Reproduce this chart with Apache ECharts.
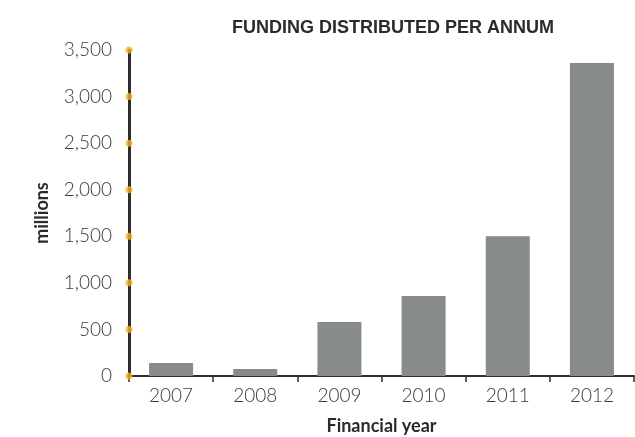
<!DOCTYPE html>
<html>
<head>
<meta charset="utf-8">
<style>
  html, body { margin: 0; padding: 0; background: #ffffff; }
  #chart { width: 635px; height: 437px; }
</style>
<script src="https://cdn.jsdelivr.net/npm/echarts@6/dist/echarts.min.js"></script>
</head>
<body>
<div id="chart"></div>
<script>
// Funding distributed per financial year (millions)
const years = ['2007', '2008', '2009', '2010', '2011', '2012'];
const funding = [140, 75, 580, 860, 1500, 3360];
const yTicks = [0, 500, 1000, 1500, 2000, 2500, 3000, 3500];

const axisColor = '#2e2c2c';
const textColor = '#3a3a3a';
const dotColor = '#f2b31b';

const chart = echarts.init(document.getElementById('chart'), null, { renderer: 'canvas' });

chart.setOption({
  animation: false,
  backgroundColor: '#ffffff',
  title: {
    text: 'FUNDING DISTRIBUTED PER ANNUM',
    left: 388,
    top: 14,
    textAlign: 'center',
    textStyle: {
      fontFamily: 'Liberation Sans',
      fontWeight: 'bold',
      fontSize: 18,
      color: '#2b2b2b'
    }
  },
  grid: {
    left: 129, right: 1, top: 50, bottom: 61,
    containLabel: false,
    outerBoundsMode: 'none'
  },
  xAxis: [
    {
      type: 'category',
      data: years,
      boundaryGap: true,
      axisLine: { lineStyle: { color: axisColor, width: 2 } },
      axisTick: { show: true, alignWithLabel: false, length: 6, lineStyle: { color: axisColor, width: 1.5 } },
      axisLabel: { color: textColor, fontFamily: 'Lato', fontWeight: 300, fontSize: 19, margin: 10 },
      name: 'Financial year',
      nameLocation: 'middle',
      nameGap: 41,
      nameTextStyle: { fontFamily: 'Lato', fontWeight: 'bold', fontSize: 18, color: '#2b2b2b' }
    },
    {
      // helper axis used to place the tick dots on the y-axis line
      type: 'value',
      min: 0,
      max: 1,
      show: false
    }
  ],
  yAxis: {
    type: 'value',
    min: 0,
    max: 3500,
    interval: 500,
    axisLine: { show: true, lineStyle: { color: axisColor, width: 3 } },
    axisTick: { show: false },
    splitLine: { show: false },
    axisLabel: {
      color: textColor,
      fontFamily: 'Lato',
      fontWeight: 300,
      fontSize: 19,
      margin: 17,
      formatter: v => v.toLocaleString('en-US')
    },
    name: 'millions',
    nameLocation: 'middle',
    nameGap: 78,
    nameRotate: 90,
    nameTextStyle: { fontFamily: 'Lato', fontWeight: 'bold', fontSize: 18, color: '#2b2b2b' }
  },
  series: [
    {
      type: 'bar',
      data: funding,
      barWidth: 44,
      itemStyle: { color: '#878b8a' }
    },
    {
      type: 'scatter',
      xAxisIndex: 1,
      data: yTicks.map(v => [0, v]),
      symbol: 'circle',
      symbolSize: 7,
      clip: false,
      z: 10,
      itemStyle: { color: dotColor }
    }
  ]
});
</script>
</body>
</html>
